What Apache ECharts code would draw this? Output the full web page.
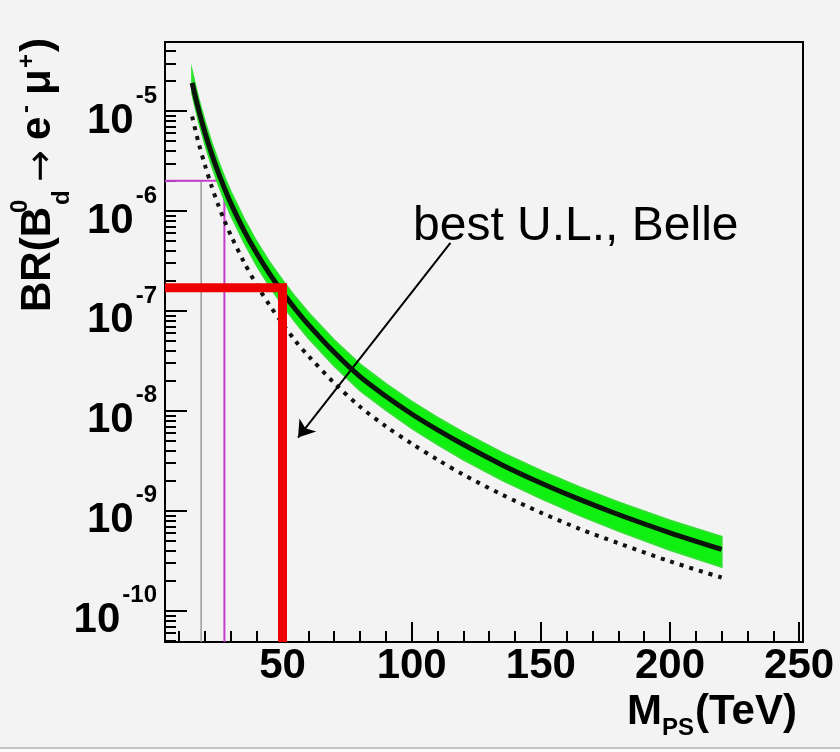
<!DOCTYPE html>
<html>
<head>
<meta charset="utf-8">
<script src="https://cdn.jsdelivr.net/npm/echarts@6/dist/echarts.min.js"></script>
<style>
  html, body { margin: 0; padding: 0; background: #f3f3f3; }
  #chart { width: 840px; height: 752px; }
</style>
</head>
<body>
<div id="chart"></div>
<script>
// Pseudoscalar mass M_PS (TeV) at which the branching ratio is sampled
const massTeV = [15, 17.5, 20, 22.5, 25, 27.5, 30, 35, 40, 45, 50, 55, 60, 70, 80, 90,
                 100, 110, 120, 135, 150, 165, 180, 200, 220];

// Central prediction for BR(B_d^0 -> e^- mu^+)
const brCentral = [1.91e-5, 1.03e-5, 6.03e-6, 3.77e-6, 2.47e-6, 1.69e-6, 1.19e-6, 6.43e-7,
                   3.77e-7, 2.35e-7, 1.54e-7, 1.04e-7, 7.3e-8, 3.85e-8, 2.2e-8, 1.4e-8,
                   9.3e-9, 6.45e-9, 4.6e-9, 2.88e-9, 1.9e-9, 1.30e-9, 9.19e-10, 6.03e-10, 4.12e-10];

// Upper / lower edge of the green uncertainty band
const brBandUpper = [2.45e-5, 1.32e-5, 7.75e-6, 4.85e-6, 3.20e-6, 2.18e-6, 1.55e-6, 8.40e-7,
                     4.90e-7, 3.07e-7, 2.02e-7, 1.37e-7, 9.60e-8, 5.10e-8, 2.92e-8, 1.86e-8,
                     1.24e-8, 8.55e-9, 6.10e-9, 3.82e-9, 2.52e-9, 1.72e-9, 1.22e-9, 8.00e-10, 5.50e-10];
const brBandLower = [1.50e-5, 8.00e-6, 4.65e-6, 2.90e-6, 1.90e-6, 1.29e-6, 9.10e-7, 4.90e-7,
                     2.85e-7, 1.77e-7, 1.15e-7, 7.70e-8, 5.35e-8, 2.82e-8, 1.60e-8, 1.02e-8,
                     6.70e-9, 4.62e-9, 3.25e-9, 2.03e-9, 1.33e-9, 9.00e-10, 6.30e-10, 4.05e-10, 2.75e-10];

// Alternative (dotted) prediction
const brDotted = [8.8e-6, 4.8e-6, 2.85e-6, 1.78e-6, 1.17e-6, 8.0e-7, 5.7e-7, 3.1e-7,
                  1.82e-7, 1.14e-7, 7.5e-8, 5.0e-8, 3.55e-8, 1.9e-8, 1.1e-8, 7.0e-9,
                  4.7e-9, 3.25e-9, 2.3e-9, 1.45e-9, 9.6e-10, 6.6e-10, 4.75e-10, 3.12e-10, 2.15e-10];

// Experimental upper limits and the mass bounds they imply
const belleLimit = 1.7e-7;
const belleMass = 50;
const olderLimit = 2.0e-6;
const olderMassMagenta = 27.5;
const olderMassGray = 18.5;

// Annotation arrow (tail, head) in data coordinates
const arrowTail = [115, 4.8e-7];
const arrowHead = [56, 5.4e-9];

// Axis ranges and tick positions
const X_MIN = 4.5, X_MAX = 251.5;
const Y_MIN = 4.87e-11, Y_MAX = 4.9e-5;
const xMajorTicks = [50, 100, 150, 200, 250];
const xMinorTicks = [10, 20, 30, 40, 60, 70, 80, 90, 110, 120, 130, 140, 160, 170, 180, 190,
                     210, 220, 230, 240];
const yMajorTicks = [1e-10, 1e-9, 1e-8, 1e-7, 1e-6, 1e-5];
const yMinorTicks = [];
for (let e = -11; e <= -5; e++) {
  for (let k = 2; k <= 9; k++) {
    const v = k * Math.pow(10, e);
    if (v > Y_MIN && v < Y_MAX) yMinorTicks.push(v);
  }
}

const FONT = 'Liberation Sans, Arial, Helvetica, sans-serif';

// Text placed on an alphabetic baseline
function textAt(str, x, baseline, size, weight, family) {
  return {
    type: 'text',
    style: {
      text: str, x: x, y: baseline - 0.3465 * size,
      font: weight + ' ' + size + 'px ' + (family || FONT),
      fill: '#000', align: 'left', verticalAlign: 'middle'
    }
  };
}

const chart = echarts.init(document.getElementById('chart'), null, { renderer: 'canvas' });

const option = {
  animation: false,
  backgroundColor: '#f3f3f3',
  grid: {
    left: 165, top: 42, right: 37, bottom: 110,
    show: true, borderColor: '#000', borderWidth: 2, backgroundColor: 'transparent',
    containLabel: false
  },
  xAxis: [
    {
      type: 'value', min: X_MIN, max: X_MAX, position: 'bottom',
      axisLine: { show: true, onZero: false, lineStyle: { color: '#000', width: 2 } },
      axisTick: { show: true, inside: true, length: 20, customValues: xMajorTicks,
                  lineStyle: { color: '#000', width: 2 } },
      axisLabel: { show: true, customValues: xMajorTicks, margin: 3,
                   fontSize: 42, fontWeight: 'bold', fontFamily: FONT, color: '#000' },
      splitLine: { show: false }
    },
    {
      type: 'value', min: X_MIN, max: X_MAX, position: 'bottom',
      axisLine: { show: false, onZero: false },
      axisTick: { show: true, inside: true, length: 11, customValues: xMinorTicks,
                  lineStyle: { color: '#000', width: 2 } },
      axisLabel: { show: false },
      splitLine: { show: false }
    }
  ],
  yAxis: [
    {
      type: 'log', min: Y_MIN, max: Y_MAX, position: 'left',
      axisLine: { show: true, onZero: false, lineStyle: { color: '#000', width: 2 } },
      axisTick: { show: true, inside: true, length: 22, customValues: yMajorTicks,
                  lineStyle: { color: '#000', width: 2 } },
      axisLabel: {
        show: true, customValues: yMajorTicks, margin: 8, align: 'right',
        padding: [4, 0, 0, 0],
        formatter: function (v) { return '{b|10}{s|' + Math.round(Math.log10(v)) + '}'; },
        rich: {
          b: { fontSize: 42, fontWeight: 'bold', fontFamily: FONT, color: '#000',
               lineHeight: 58, verticalAlign: 'bottom' },
          s: { fontSize: 24, fontWeight: 'bold', fontFamily: FONT, color: '#000',
               lineHeight: 24, verticalAlign: 'top', padding: [0, 0, 0, 2] }
        }
      },
      splitLine: { show: false }
    },
    {
      type: 'log', min: Y_MIN, max: Y_MAX, position: 'left',
      axisLine: { show: false, onZero: false },
      axisTick: { show: true, inside: true, length: 11, customValues: yMinorTicks,
                  lineStyle: { color: '#000', width: 2 } },
      axisLabel: { show: false },
      splitLine: { show: false }
    }
  ],
  series: [
    {
      name: 'older limit (gray)', type: 'line', symbol: 'none', z: 1,
      data: [[X_MIN, olderLimit], [olderMassGray, olderLimit], [olderMassGray, Y_MIN]],
      lineStyle: { color: '#9a9a9a', width: 1.5 }
    },
    {
      name: 'older limit', type: 'line', symbol: 'none', z: 2,
      data: [[X_MIN, olderLimit], [olderMassMagenta, olderLimit], [olderMassMagenta, Y_MIN]],
      lineStyle: { color: '#c83ccc', width: 2 }
    },
    {
      name: 'band', type: 'custom', z: 3,
      data: [[massTeV[0], brBandUpper[0]]],
      encode: { x: 0, y: 1 },
      renderItem: function (params, api) {
        const pts = [];
        for (let i = 0; i < massTeV.length; i++) pts.push(api.coord([massTeV[i], brBandUpper[i]]));
        for (let i = massTeV.length - 1; i >= 0; i--) pts.push(api.coord([massTeV[i], brBandLower[i]]));
        return {
          type: 'polygon',
          shape: { points: pts },
          style: { fill: '#10f010', stroke: '#30e030', lineWidth: 2 }
        };
      }
    },
    {
      name: 'dotted', type: 'line', symbol: 'none', z: 4, smooth: 0.3,
      data: massTeV.map((m, i) => [m, brDotted[i]]),
      lineStyle: { color: '#111', width: 4, type: [4, 6] }
    },
    {
      name: 'central', type: 'line', symbol: 'none', z: 5, smooth: 0.3,
      data: massTeV.map((m, i) => [m, brCentral[i]]),
      lineStyle: { color: '#0a140a', width: 5 }
    },
    {
      name: 'Belle limit', type: 'line', symbol: 'none', z: 6,
      data: [[X_MIN, belleLimit], [belleMass, belleLimit], [belleMass, Y_MIN]],
      lineStyle: { color: '#ee0000', width: 9, join: 'miter' },
      markLine: {
        silent: true, animation: false,
        symbol: ['none', 'arrow'], symbolSize: 16,
        label: { show: false },
        lineStyle: { color: '#000', width: 2, type: 'solid' },
        data: [[{ coord: arrowTail }, { coord: arrowHead }]]
      }
    }
  ],
  graphic: [
    // lower edge of the canvas
    { type: 'rect', shape: { x: 0, y: 747, width: 840, height: 2 }, style: { fill: '#c4c4c4' }, silent: true },
    { type: 'rect', shape: { x: 0, y: 749, width: 840, height: 3 }, style: { fill: '#fbfbfb' }, silent: true },
    // annotation text
    textAt('best U.L., Belle', 413, 243, 48, 'normal'),
    // x-axis title
    textAt('M', 627, 727, 42, 'bold'),
    textAt('PS', 662, 737, 24, 'bold'),
    textAt('(TeV)', 695, 727, 42, 'bold'),
    // y-axis title, rotated to read bottom-to-top
    {
      type: 'group', x: 53, y: 312, rotation: Math.PI / 2,
      children: [
        textAt('BR(B', 0, 0, 42, 'bold'),
        textAt('0', 99, -24, 24, 'bold'),
        textAt('d', 107, 18, 24, 'bold'),
        {
          type: 'text',
          style: { text: '\u2192', x: 130, y: -11, font: 'normal 38px DejaVu Sans',
                   fill: '#000', align: 'left', verticalAlign: 'middle' }
        },
        textAt('e', 172, 0, 42, 'bold'),
        textAt('-', 199, -18, 24, 'bold'),
        textAt('\u03bc', 217, 0, 42, 'bold'),
        textAt('+', 244, -17, 24, 'bold'),
        textAt(')', 260, 0, 42, 'bold')
      ]
    }
  ]
};

chart.setOption(option);
</script>
</body>
</html>
